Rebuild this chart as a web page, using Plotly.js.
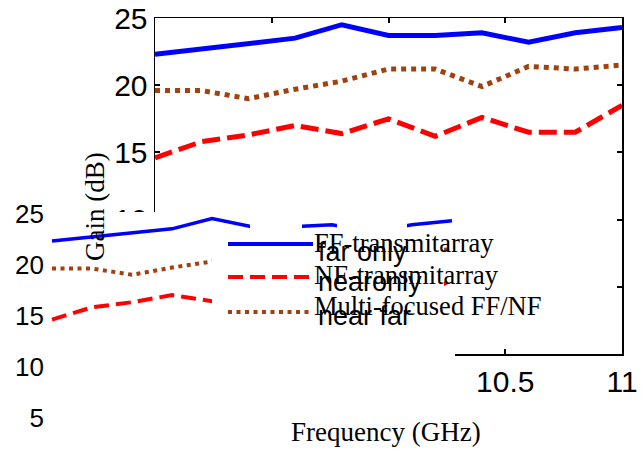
<!DOCTYPE html>
<html>
<head>
<meta charset="utf-8">
<script src="https://cdn.plot.ly/plotly-3.0.1.min.js"></script>
<style>
  html, body { margin: 0; padding: 0; background: #fff; }
  #chart { width: 641px; height: 450px; }
</style>
</head>
<body>
<div id="chart"></div>
<script>
// Measured gain versus frequency for the three lens configurations
const freq   = [9.0, 9.2, 9.4, 9.6, 9.8, 10.0, 10.2, 10.4, 10.6, 10.8, 11.0];
const ffGain = [22.3, 22.7, 23.1, 23.5, 24.5, 23.7, 23.7, 23.9, 23.2, 23.9, 24.3];
const nfGain = [14.6, 15.8, 16.3, 17.0, 16.4, 17.5, 16.2, 17.6, 16.5, 16.5, 18.5];
const mfGain = [19.6, 19.6, 19.0, 19.7, 20.3, 21.2, 21.2, 19.9, 21.4, 21.2, 21.5];

const seriesNames = ['FF-transmitarray', 'NF-transmitarray', 'Multi-focused FF/NF'];
const shortNames  = ['far only', 'nearonly', 'near far'];

const xTickVals = [9, 9.5, 10, 10.5, 11];
const xTickText = ['9', '9.5', '10', '10.5', '11'];
const yTickVals = [0, 5, 10, 15, 20, 25];
const insetYTickVals = [5, 10, 15, 20, 25];

const W = 641, H = 450;
const fx = p => p / W;          // pixel column -> paper x
const fy = p => 1 - p / H;      // pixel row -> paper y

const BLUE = '#0000ff', RED = '#ff0000', BROWN = '#a0420f';
const SERIF = 'Liberation Serif, Times New Roman, serif';
const SANS = 'Liberation Sans, Arial, sans-serif';

const ys = [ffGain, nfGain, mfGain];
const colors = [BLUE, RED, BROWN];
const mainDash = ['solid', '18px,7px', '5px,5px'];
const insetDash = ['solid', '15px,7px', '4px,4.5px'];
const mainWidth = [5, 5, 5];
const insetWidth = [3.5, 4, 4];

const traces = [];
ys.forEach((y, i) => {
  traces.push({
    x: freq, y: y, xaxis: 'x', yaxis: 'y', mode: 'lines', name: seriesNames[i],
    line: { color: colors[i], width: mainWidth[i], dash: mainDash[i] },
    showlegend: false, hoverinfo: 'skip'
  });
});
ys.forEach((y, i) => {
  traces.push({
    x: freq, y: y, xaxis: 'x2', yaxis: 'y2', mode: 'lines', name: shortNames[i],
    line: { color: colors[i], width: insetWidth[i], dash: insetDash[i] },
    showlegend: false, hoverinfo: 'skip'
  });
});

// legend box, gaps in the small plot's top line, and legend line samples
const shapes = [
  { type: 'rect', xref: 'paper', yref: 'paper', layer: 'above',
    x0: fx(212), x1: fx(444), y0: fy(352), y1: fy(228),
    fillcolor: '#fff', line: { width: 0 } },
  { type: 'rect', xref: 'paper', yref: 'paper', layer: 'above',
    x0: fx(250), x1: fx(302), y0: fy(230), y1: fy(212),
    fillcolor: '#fff', line: { width: 0 } },
  { type: 'rect', xref: 'paper', yref: 'paper', layer: 'above',
    x0: fx(337), x1: fx(407), y0: fy(230), y1: fy(212),
    fillcolor: '#fff', line: { width: 0 } }
];
const sampleRows = [244, 277, 312];
sampleRows.forEach((r, i) => {
  shapes.push({
    type: 'line', xref: 'paper', yref: 'paper', layer: 'above',
    x0: fx(228), x1: fx(313), y0: fy(r), y1: fy(r),
    line: { color: colors[i], width: 4, dash: insetDash[i] }
  });
});

const annotations = [];
const labelRows = [243, 275, 306];
const shortRows = [252, 282, 316];
seriesNames.forEach((t, i) => {
  annotations.push({
    xref: 'paper', yref: 'paper', x: fx(312), y: fy(labelRows[i]),
    xanchor: 'left', yanchor: 'middle', showarrow: false, text: t,
    font: { family: SERIF, size: 26.5, color: '#000' }
  });
});
shortNames.forEach((t, i) => {
  annotations.push({
    xref: 'paper', yref: 'paper', x: fx(316), y: fy(shortRows[i]),
    xanchor: 'left', yanchor: 'middle', showarrow: false, text: t,
    font: { family: SANS, size: 27, color: '#000' }
  });
});
annotations.push({
  xref: 'paper', yref: 'paper', x: fx(386), y: fy(432),
  xanchor: 'center', yanchor: 'middle', showarrow: false, text: 'Frequency (GHz)',
  font: { family: SERIF, size: 27, color: '#000' }
});
annotations.push({
  xref: 'paper', yref: 'paper', x: fx(95), y: fy(207),
  xanchor: 'center', yanchor: 'middle', showarrow: false, text: 'Gain (dB)',
  textangle: -90, font: { family: SERIF, size: 27, color: '#000' }
});

const layout = {
  width: W, height: H,
  margin: { l: 0, r: 0, t: 0, b: 0, pad: 0 },
  paper_bgcolor: '#fff', plot_bgcolor: '#fff',
  showlegend: false,
  xaxis: {
    domain: [fx(155), fx(622)], range: [9, 11], anchor: 'y',
    tickmode: 'array', tickvals: xTickVals, ticktext: xTickText,
    ticks: 'inside', ticklen: 5, tickwidth: 2, tickcolor: '#000',
    showline: true, linecolor: '#000', linewidth: 1.5, mirror: 'ticks',
    showgrid: false, zeroline: false,
    tickfont: { family: SANS, size: 30, color: '#000' }
  },
  yaxis: {
    domain: [fy(354), fy(18)], range: [0, 25], anchor: 'x',
    tickmode: 'array', tickvals: yTickVals,
    ticks: 'inside', ticklen: 5, tickwidth: 2, tickcolor: '#000',
    showline: true, linecolor: '#000', linewidth: 1.5, mirror: 'ticks',
    showgrid: false, zeroline: false,
    tickfont: { family: SANS, size: 30, color: '#000' }
  },
  xaxis2: {
    domain: [0, fx(455)], range: [8.74, 11.015], anchor: 'y2',
    showline: false, ticks: '', showticklabels: false,
    showgrid: false, zeroline: false
  },
  yaxis2: {
    domain: [0, fy(212)], range: [1.81, 25.15], anchor: 'free', position: fx(44),
    tickmode: 'array', tickvals: insetYTickVals,
    showline: false, ticks: '', showgrid: false, zeroline: false,
    tickfont: { family: SANS, size: 26, color: '#000' }
  },
  shapes: shapes,
  annotations: annotations
};

Plotly.newPlot('chart', traces, layout, { staticPlot: true, displayModeBar: false });
</script>
</body>
</html>
